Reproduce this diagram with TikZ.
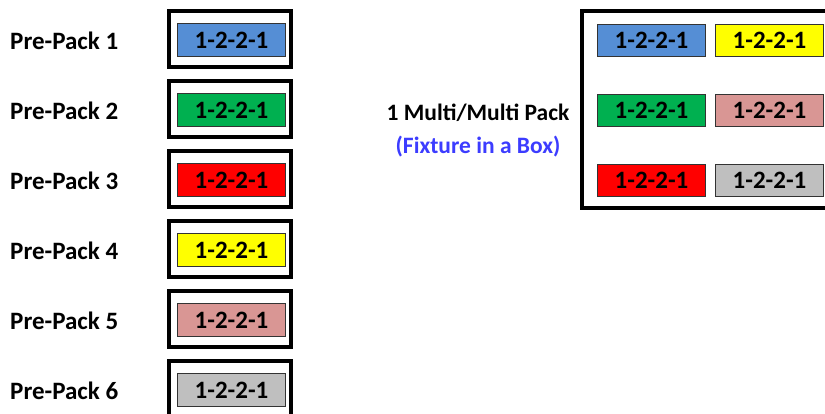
\documentclass[tikz,border=0pt]{standalone}
\usepackage{fontspec}
\setmainfont{Carlito}
\usepackage{tikz}
\usetikzlibrary{positioning}

\definecolor{pblue}{RGB}{85,142,213}
\definecolor{pgreen}{RGB}{0,176,80}
\definecolor{pred}{RGB}{255,0,0}
\definecolor{pyellow}{RGB}{255,255,0}
\definecolor{ppink}{RGB}{217,150,148}
\definecolor{pgray}{RGB}{191,191,191}
\definecolor{fixblue}{RGB}{60,60,255}

\begin{document}
\begin{tikzpicture}[x=1pt,y=-1pt,
        crate/.style={draw,line width=4pt,minimum width=122pt,minimum height=56pt,inner sep=0pt},
        pack/.style={draw=black!80,line width=1.3pt,minimum width=107.5pt,minimum height=32.5pt,inner sep=0pt,font=\bfseries\fontsize{25}{25}\selectfont},
        lbl/.style={inner sep=0pt,font=\bfseries\fontsize{25}{25}\selectfont},
        multilbl/.style={inner sep=0pt,font=\bfseries\fontsize{23.5}{24}\selectfont}]
        \useasboundingbox (0,0) rectangle (825,413);
        \clip (0,0) rectangle (825,413);

        \node[lbl,anchor=west] (pp1) at (10,41) {Pre-Pack 1};
        \node[crate] (c1) at (230,39) {};
        \node[pack,fill=pblue] (p1) at (231.5,40) {1-2-2-1};

        \node[lbl,anchor=west] (pp2) at (10,111) {Pre-Pack 2};
        \node[crate] (c2) at (230,109) {};
        \node[pack,fill=pgreen] (p2) at (231.5,110) {1-2-2-1};

        \node[lbl,anchor=west] (pp3) at (10,181) {Pre-Pack 3};
        \node[crate] (c3) at (230,179) {};
        \node[pack,fill=pred] (p3) at (231.5,180) {1-2-2-1};

        \node[lbl,anchor=west] (pp4) at (10,251) {Pre-Pack 4};
        \node[crate] (c4) at (230,249) {};
        \node[pack,fill=pyellow] (p4) at (231.5,250) {1-2-2-1};

        \node[lbl,anchor=west] (pp5) at (10,321) {Pre-Pack 5};
        \node[crate] (c5) at (230,319) {};
        \node[pack,fill=ppink] (p5) at (231.5,320) {1-2-2-1};

        \node[lbl,anchor=west] (pp6) at (10,391) {Pre-Pack 6};
        \node[crate] (c6) at (230,389) {};
        \node[pack,fill=pgray] (p6) at (231.5,390) {1-2-2-1};

        \node[multilbl] (multi) at (478,113) {1 Multi/Multi Pack};
        \node[multilbl,text=fixblue] (fixture) at (478,147) {(Fixture in a Box)};

        \node[crate,minimum width=258pt,minimum height=197.5pt] (box) at (711,109.25) {};
        \node[pack,fill=pblue] (m1) at (651.5,40.5) {1-2-2-1};
        \node[pack,fill=pyellow] (m2) at (769.5,40.5) {1-2-2-1};
        \node[pack,fill=pgreen] (m3) at (651.5,110.5) {1-2-2-1};
        \node[pack,fill=ppink] (m4) at (769.5,110.5) {1-2-2-1};
        \node[pack,fill=pred] (m5) at (651.5,180.5) {1-2-2-1};
        \node[pack,fill=pgray] (m6) at (769.5,180.5) {1-2-2-1};
\end{tikzpicture}
\end{document}
